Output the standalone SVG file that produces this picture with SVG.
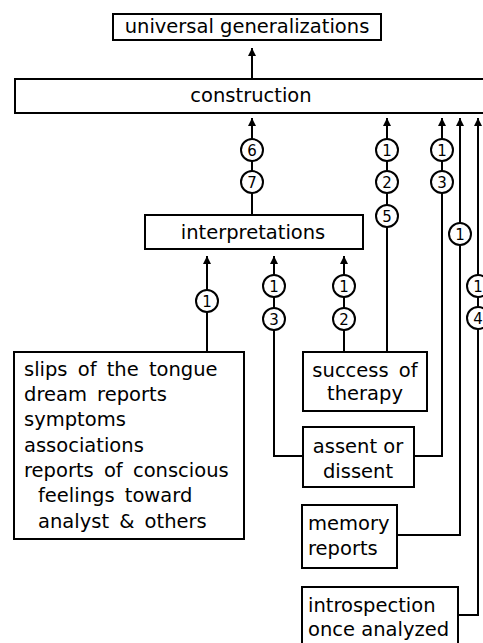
<svg xmlns="http://www.w3.org/2000/svg" width="483" height="643" viewBox="0 0 483 643">
<style>
  .box { fill: #fff; stroke: #000; stroke-width: 2; }
  .t { font-family: "DejaVu Sans", "Liberation Sans", sans-serif; font-size: 19.5px; fill: #000; word-spacing: 4px; }
  .tight { word-spacing: 0px; }
  .m { text-anchor: middle; }
  .ln { fill: none; stroke: #000; stroke-width: 2; }
  .c { fill: #fff; stroke: #000; stroke-width: 2; }
  .n { font-family: "DejaVu Sans", "Liberation Sans", sans-serif; font-size: 15px; text-anchor: middle; fill: #000; }
</style>
<defs>
  <marker id="ah" viewBox="0 0 10 10" refX="10" refY="5" markerWidth="10" markerHeight="8" markerUnits="userSpaceOnUse" orient="auto">
    <path d="M0,0 L10,5 L0,10 z" fill="#000"/>
  </marker>
</defs>
<rect width="483" height="643" fill="#fff"/>

<g id="connectors">
  <path class="ln" d="M252,79 L252,48" marker-end="url(#ah)"/>
  <path class="ln" d="M252,215 L252,118" marker-end="url(#ah)"/>
  <path class="ln" d="M207,352 L207,256" marker-end="url(#ah)"/>
  <path class="ln" d="M303,456 L274,456 L274,256" marker-end="url(#ah)"/>
  <path class="ln" d="M344,352 L344,256" marker-end="url(#ah)"/>
  <path class="ln" d="M387,352 L387,118" marker-end="url(#ah)"/>
  <path class="ln" d="M414,456 L442,456 L442,118" marker-end="url(#ah)"/>
  <path class="ln" d="M397,535 L460,535 L460,118" marker-end="url(#ah)"/>
  <path class="ln" d="M458,615 L478,615 L478,118" marker-end="url(#ah)"/>
  <g id="labels">
    <circle class="c" cx="252" cy="150" r="11"/><text class="n" x="252" y="155.5">6</text>
    <circle class="c" cx="252" cy="182" r="11"/><text class="n" x="252" y="187.5">7</text>
    <circle class="c" cx="207" cy="301" r="11"/><text class="n" x="207" y="306.5">1</text>
    <circle class="c" cx="274" cy="286" r="11"/><text class="n" x="274" y="291.5">1</text>
    <circle class="c" cx="274" cy="319" r="11"/><text class="n" x="274" y="324.5">3</text>
    <circle class="c" cx="344" cy="286" r="11"/><text class="n" x="344" y="291.5">1</text>
    <circle class="c" cx="344" cy="319" r="11"/><text class="n" x="344" y="324.5">2</text>
    <circle class="c" cx="387" cy="150" r="11"/><text class="n" x="387" y="155.5">1</text>
    <circle class="c" cx="387" cy="182" r="11"/><text class="n" x="387" y="187.5">2</text>
    <circle class="c" cx="387" cy="216" r="11"/><text class="n" x="387" y="221.5">5</text>
    <circle class="c" cx="442" cy="150" r="11"/><text class="n" x="442" y="155.5">1</text>
    <circle class="c" cx="442" cy="182" r="11"/><text class="n" x="442" y="187.5">3</text>
    <circle class="c" cx="460" cy="234" r="11"/><text class="n" x="460" y="239.5">1</text>
    <circle class="c" cx="478" cy="286" r="11"/><text class="n" x="478" y="291.5">1</text>
    <circle class="c" cx="478" cy="318" r="11"/><text class="n" x="478" y="323.5">4</text>
  </g>
</g>

<g id="universal">
  <rect class="box" x="113" y="14" width="268" height="26"/>
  <text class="t m tight" x="247" y="33">universal generalizations</text>
</g>
<g id="construction">
  <rect class="box" x="15" y="79" width="480" height="34"/>
  <text class="t m" x="251" y="102">construction</text>
</g>
<g id="interpretations">
  <rect class="box" x="145" y="215" width="218" height="34"/>
  <text class="t m" x="253" y="239">interpretations</text>
</g>
<g id="data">
  <rect class="box" x="14" y="352" width="230" height="187"/>
  <text class="t" x="24" y="376">slips of the tongue</text>
  <text class="t" x="24" y="401">dream reports</text>
  <text class="t" x="24" y="426">symptoms</text>
  <text class="t" x="24" y="452">associations</text>
  <text class="t" x="24" y="477">reports of conscious</text>
  <text class="t" x="38" y="502">feelings toward</text>
  <text class="t" x="38" y="528">analyst &amp; others</text>
</g>
<g id="success">
  <rect class="box" x="303" y="352" width="124" height="59"/>
  <text class="t m" x="365" y="377">success of</text>
  <text class="t m" x="365" y="400">therapy</text>
</g>
<g id="assent">
  <rect class="box" x="303" y="427" width="111" height="60"/>
  <text class="t m tight" x="358" y="453">assent or</text>
  <text class="t m" x="358" y="478">dissent</text>
</g>
<g id="memory">
  <rect class="box" x="302" y="505" width="95" height="63"/>
  <text class="t" x="308" y="530">memory</text>
  <text class="t" x="308" y="555">reports</text>
</g>
<g id="introspection">
  <rect class="box" x="302" y="587" width="156" height="70"/>
  <text class="t" x="308" y="612">introspection</text>
  <text class="t tight" x="308" y="636">once analyzed</text>
</g>
</svg>
